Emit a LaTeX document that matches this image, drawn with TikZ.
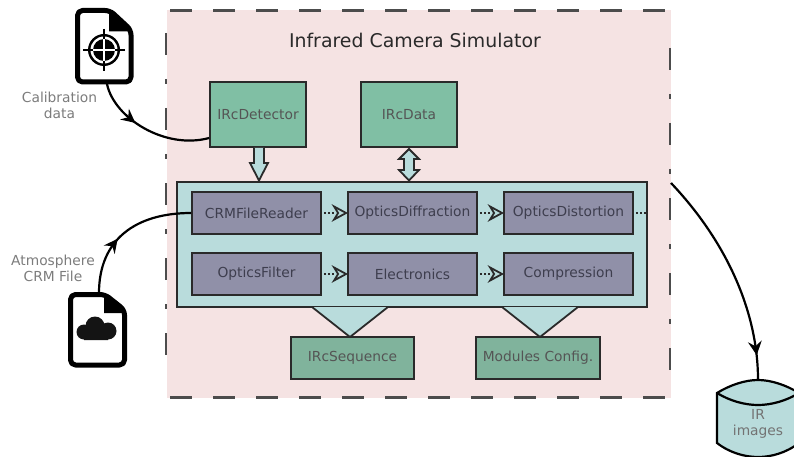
\documentclass[tikz,border=0pt]{standalone}
\usepackage{fontspec}
\setmainfont{DejaVu Sans}
\usetikzlibrary{decorations.markings}
\definecolor{pinkbg}{HTML}{F5E3E3}
\definecolor{tealbg}{HTML}{B9DCDC}
\definecolor{greenA}{HTML}{80BFA4}
\definecolor{greenB}{HTML}{80B39C}
\definecolor{purp}{HTML}{9090A8}
\definecolor{ink}{HTML}{2A2A2A}
\definecolor{txtbox}{HTML}{3E3E4E}
\definecolor{txtlab}{HTML}{7C7C7C}
\tikzset{
  bx/.style={draw=ink,line width=1.8pt,inner sep=0pt,font=\fontsize{13.8}{15}\selectfont,text=txtbox},
  modbox/.style={bx,fill=purp,minimum width=129pt,minimum height=42pt},
  topbox/.style={bx,fill=greenA,minimum width=96pt,minimum height=65pt,text=ink!80},
  botbox/.style={bx,fill=greenB,minimum height=42pt,text=ink!80},
  lab/.style={align=center,font=\fontsize{13.8}{16}\selectfont,text=txtlab,inner sep=0pt},
  dotarrow/.style={draw=ink,line width=1.8pt,dash pattern=on 1.8pt off 2.4pt},
  openhead/.style={draw=ink,line width=1.8pt,fill=tealbg,line join=miter},
  curve/.style={draw=black,line width=2.2pt},
  midhead/.style={postaction={decorate,decoration={markings,mark=at position #1 with {\fill[black] (6,0) -- (-8,-7) -- (-3,0) -- (-8,7) -- cycle;}}}},
  dashh/.style={draw=black!70,line width=2.2pt,dash pattern=on 22pt off 21pt},
  dashv/.style={draw=black!70,line width=2.2pt,dash pattern=on 22pt off 24pt on 5pt off 24pt},
  docline/.style={draw=black,line width=5pt,line join=round,fill=white,rounded corners=5pt},
}
\begin{document}
\begin{tikzpicture}[x=1pt,y=-1pt]
\useasboundingbox (0,0) rectangle (794,457);
\clip (0,0) rectangle (794,457);
% simulator frame
\fill[pinkbg] (167,10) rectangle (671,398);
\coordinate (tl) at (170,10.5); \coordinate (tr) at (671,10.5);
\coordinate (bl) at (170,397.5); \coordinate (br) at (671,397.5);
\coordinate (ls) at (166,33); \coordinate (le) at (166,375);
\coordinate (rs) at (670,48); \coordinate (re) at (670,385);
\draw[dashh] (tl) -- (tr);
\draw[dashh] (bl) -- (br);
\draw[dashv] (ls) -- (le);
\draw[dashv] (rs) -- (re);
\node[font=\fontsize{18.9}{20}\selectfont,text=ink,inner sep=0pt] (title) at (415,40) {Infrared Camera Simulator};
% documents
\draw[docline] (77.5,10.5) -- (77.5,82) -- (131,82) -- (131,30) -- (110,10.5) -- cycle;
\fill[black] (109,10.5) -- (131,30) -- (131,31.5) -- (109,31.5) -- cycle;
\node[inner sep=0pt,minimum width=58pt,minimum height=76pt] (doc1) at (104,46) {};
\fill[black] (104,50) circle (16pt);
\fill[white] (104,50) circle (13.5pt);
\fill[black] (104,50) circle (11pt);
\draw[white,line width=1.3pt] (104,39) -- (104,61) (93,50) -- (115,50);
\draw[black,line width=1.6pt] (104,29) -- (104,39) (104,61) -- (104,71) (83,50) -- (93,50) (115,50) -- (125,50);
\draw[docline] (70.5,294.5) -- (70.5,365) -- (124.5,365) -- (124.5,310) -- (105,294.5) -- cycle;
\fill[black] (104,294.5) -- (124.5,310) -- (124.5,313) -- (104,313) -- cycle;
\node[inner sep=0pt,minimum width=59pt,minimum height=75pt] (doc2) at (97,329) {};
\fill[black!92] (84,332) circle (7.5pt) (95,326) circle (9.5pt) (108,331) circle (8.5pt) (84,330) rectangle (108,340);
% panel
\node[draw=ink,line width=1.8pt,fill=tealbg,minimum width=470pt,minimum height=125pt,inner sep=0pt] (panel) at (412,244.5) {};
% funnels
\node[botbox,minimum width=123pt] (seq) at (352.5,358) {IRcSequence};
\node[botbox,minimum width=124pt] (cfg) at (538,358) {Modules Config.};
\coordinate (f1l) at (312,307); \coordinate (f1r) at (388,307);
\coordinate (f2l) at (502,307); \coordinate (f2r) at (578,307);
\coordinate (f1b) at (350,337); \coordinate (f2b) at (540,337);
\fill[tealbg] (f1l) -- (f1b) -- (f1r) -- cycle;
\fill[tealbg] (f2l) -- (f2b) -- (f2r) -- cycle;
\draw[ink,line width=1.8pt] (f1l) -- (f1b) -- (f1r);
\draw[ink,line width=1.8pt] (f2l) -- (f2b) -- (f2r);
% top boxes
\node[topbox] (det) at (258,114.5) {IRcDetector};
\node[topbox] (dat) at (409,114.5) {IRcData};
% block arrows
\draw[ink,line width=1.8pt,fill=tealbg,line join=miter]
  (254,148) -- (254,163) -- (250,163) -- (259,180.5) -- (268,163) -- (264,163) -- (264,148);
\draw[ink,line width=1.8pt,fill=tealbg,line join=miter]
  (409,149) -- (419,159) -- (414,159) -- (414,170) -- (419,170) -- (409,180.5) -- (399,170) -- (404,170) -- (404,159) -- (399,159) -- cycle;
% modules
\node[modbox] (m1) at (256.5,213) {CRMFileReader};
\node[modbox] (m2) at (412.5,213) {OpticsDiffraction};
\node[modbox] (m3) at (568.5,213) {OpticsDistortion};
\node[modbox] (m4) at (256.5,274) {OpticsFilter};
\node[modbox] (m5) at (412.5,274) {Electronics};
\node[modbox] (m6) at (568.5,274) {Compression};
\coordinate (pe) at (panel.east |- m3.east);
\foreach \a/\b in {m1/m2,m2/m3,m4/m5,m5/m6}{
  \draw[dotarrow] ([xshift=2pt]\a.east) -- ([xshift=-12pt]\b.west);
  \draw[openhead] ([xshift=-1pt]\b.west) -- ([xshift=-13pt,yshift=-6.5pt]\b.west) -- ([xshift=-9pt]\b.west) -- ([xshift=-13pt,yshift=6.5pt]\b.west) -- cycle;
}
\draw[dotarrow] ([xshift=2pt]m3.east) -- (pe);
% labels
\node[lab] (l1) at (59.5,105) {Calibration\\data};
\node[lab] (l2) at (53,268.5) {Atmosphere\\CRM File};
% curved connectors
\coordinate (c1s) at (107,84);
\coordinate (c1e) at (det.west |- 0,138);
\draw[curve,midhead=0.34] (c1s) .. controls (114,118) and (165,150) .. (c1e);
\coordinate (c2s) at (99,293);
\draw[curve,midhead=0.38] (c2s) .. controls (99,240) and (135,213) .. (m1.west);
% cylinder
\coordinate (cyltop) at (758,380);
\path (cyltop) ++(-41,13) coordinate (cl) (cyltop) ++(41,13) coordinate (cr);
\draw[draw=black,line width=2.2pt,fill=tealbg] (cl) .. controls (730,385) and (745,380) .. (cyltop)
  .. controls (771,380) and (786,385) .. (cr) -- (799,443)
  .. controls (786,453) and (771,457) .. (758,457)
  .. controls (745,457) and (730,453) .. (717,443) -- cycle;
\draw[black,line width=2.2pt] (cl) .. controls (730,401) and (745,405) .. (758,405) .. controls (771,405) and (786,401) .. (cr);
\node[lab,text=black!55] (irtxt) at (758,424) {IR\\images};
\coordinate (cs) at (671,183);
\draw[curve,midhead=0.86] (cs) .. controls (725,240) and (758,310) .. (cyltop);
\end{tikzpicture}
\end{document}
